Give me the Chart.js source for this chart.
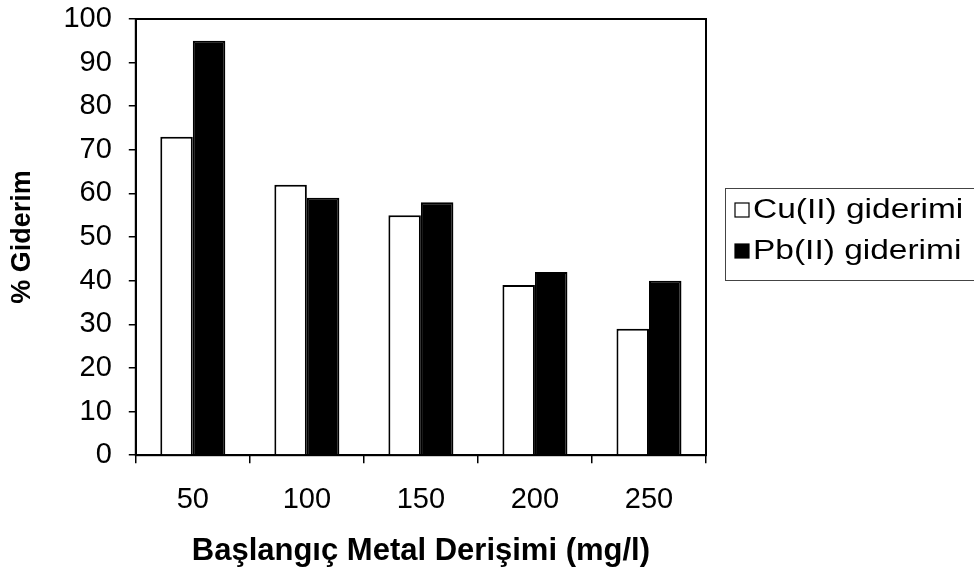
<!DOCTYPE html>
<html>
<head>
<meta charset="utf-8">
<script src="https://cdn.jsdelivr.net/npm/chart.js@4"></script>
<style>
  html, body { margin: 0; padding: 0; background: #fff; }
  #wrap { width: 974px; height: 576px; }
</style>
</head>
<body>
<div id="wrap"><canvas id="chart"></canvas></div>
<script>
// Başlangıç metal derişimi (mg/l)
const categories = ['50', '100', '150', '200', '250'];
// % giderim değerleri
const cuValues = [73, 62, 55, 39, 29];
const pbValues = [95, 59, 58, 42, 40];
const seriesNames = ['Cu(II) giderimi', 'Pb(II) giderimi'];
const yTicks = [0, 10, 20, 30, 40, 50, 60, 70, 80, 90, 100];

const FONT = 'Liberation Sans, Arial, sans-serif';

// Çerçeve ve lejant kutusu
const framePlugin = {
  id: 'frame',
  afterDraw(chart) {
    const { ctx, chartArea: a } = chart;
    ctx.save();
    ctx.strokeStyle = '#000';
    ctx.lineWidth = 2;
    ctx.strokeRect(a.left, a.top, a.right - a.left, a.bottom - a.top);

    // lejant
    const lx = 725, ly = 188, lw = 260, lh = 92;
    ctx.lineWidth = 1;
    ctx.strokeStyle = '#444';
    ctx.strokeRect(lx + 0.5, ly + 0.5, lw, lh);
    ctx.textBaseline = 'middle';
    chart.data.datasets.forEach((ds, i) => {
      const y = ly + 22 + i * 41;
      ctx.fillStyle = ds.backgroundColor;
      ctx.fillRect(lx + 10, y - 7, 14, 14);
      ctx.strokeStyle = '#000';
      ctx.lineWidth = 1.2;
      ctx.strokeRect(lx + 10, y - 7, 14, 14);
      // metin biraz yatay genişletilmiş
      ctx.save();
      ctx.translate(lx + 28, y);
      ctx.scale(1.24, 1);
      ctx.fillStyle = '#000';
      ctx.font = '27px ' + FONT;
      ctx.fillText(ds.label, 0, 1);
      ctx.restore();
    });
    ctx.restore();
  }
};

new Chart(document.getElementById('chart'), {
  type: 'bar',
  data: {
    labels: categories,
    datasets: [
      {
        label: seriesNames[0],
        data: cuValues,
        backgroundColor: '#ffffff',
        borderColor: '#000000',
        borderWidth: 2
      },
      {
        label: seriesNames[1],
        data: pbValues,
        backgroundColor: '#000000',
        borderColor: '#000000',
        borderWidth: 2
      }
    ]
  },
  options: {
    responsive: true,
    maintainAspectRatio: false,
    animation: false,
    datasets: {
      bar: { categoryPercentage: 0.57, barPercentage: 1.0 }
    },
    layout: {
      padding: { left: 2, right: 268, top: 19, bottom: 0 }
    },
    scales: {
      x: {
        grid: {
          display: true,
          offset: true,
          drawOnChartArea: false,
          drawTicks: true,
          tickLength: 8,
          color: '#000',
          lineWidth: 1.5
        },
        border: { display: true, color: '#000', width: 2 },
        ticks: {
          color: '#000',
          padding: 19,
          font: { family: FONT, size: 29 }
        },
        title: {
          display: true,
          text: 'Başlangıç Metal Derişimi (mg/l)',
          color: '#000',
          font: { family: FONT, size: 31, weight: 'bold', lineHeight: 1.0 },
          padding: { top: 0, bottom: 9 }
        }
      },
      y: {
        min: 0,
        max: 100,
        afterBuildTicks(scale) {
          scale.ticks = yTicks.map(v => ({ value: v }));
        },
        // üstteki "100" etiketi için ekstra boşluk bırakma
        afterFit(scale) {
          scale.paddingTop = 0;
        },
        grid: {
          display: true,
          drawOnChartArea: false,
          drawTicks: true,
          tickLength: 7,
          color: '#000',
          lineWidth: 1.5
        },
        border: { display: true, color: '#000', width: 2 },
        ticks: {
          color: '#000',
          padding: 17,
          font: { family: FONT, size: 29 }
        },
        title: {
          display: true,
          text: '% Giderim',
          color: '#000',
          font: { family: FONT, size: 27, weight: 'bold' },
          padding: { top: 4, bottom: 8 }
        }
      }
    },
    plugins: {
      legend: { display: false },
      tooltip: { enabled: false }
    }
  },
  plugins: [framePlugin]
});
</script>
</body>
</html>
